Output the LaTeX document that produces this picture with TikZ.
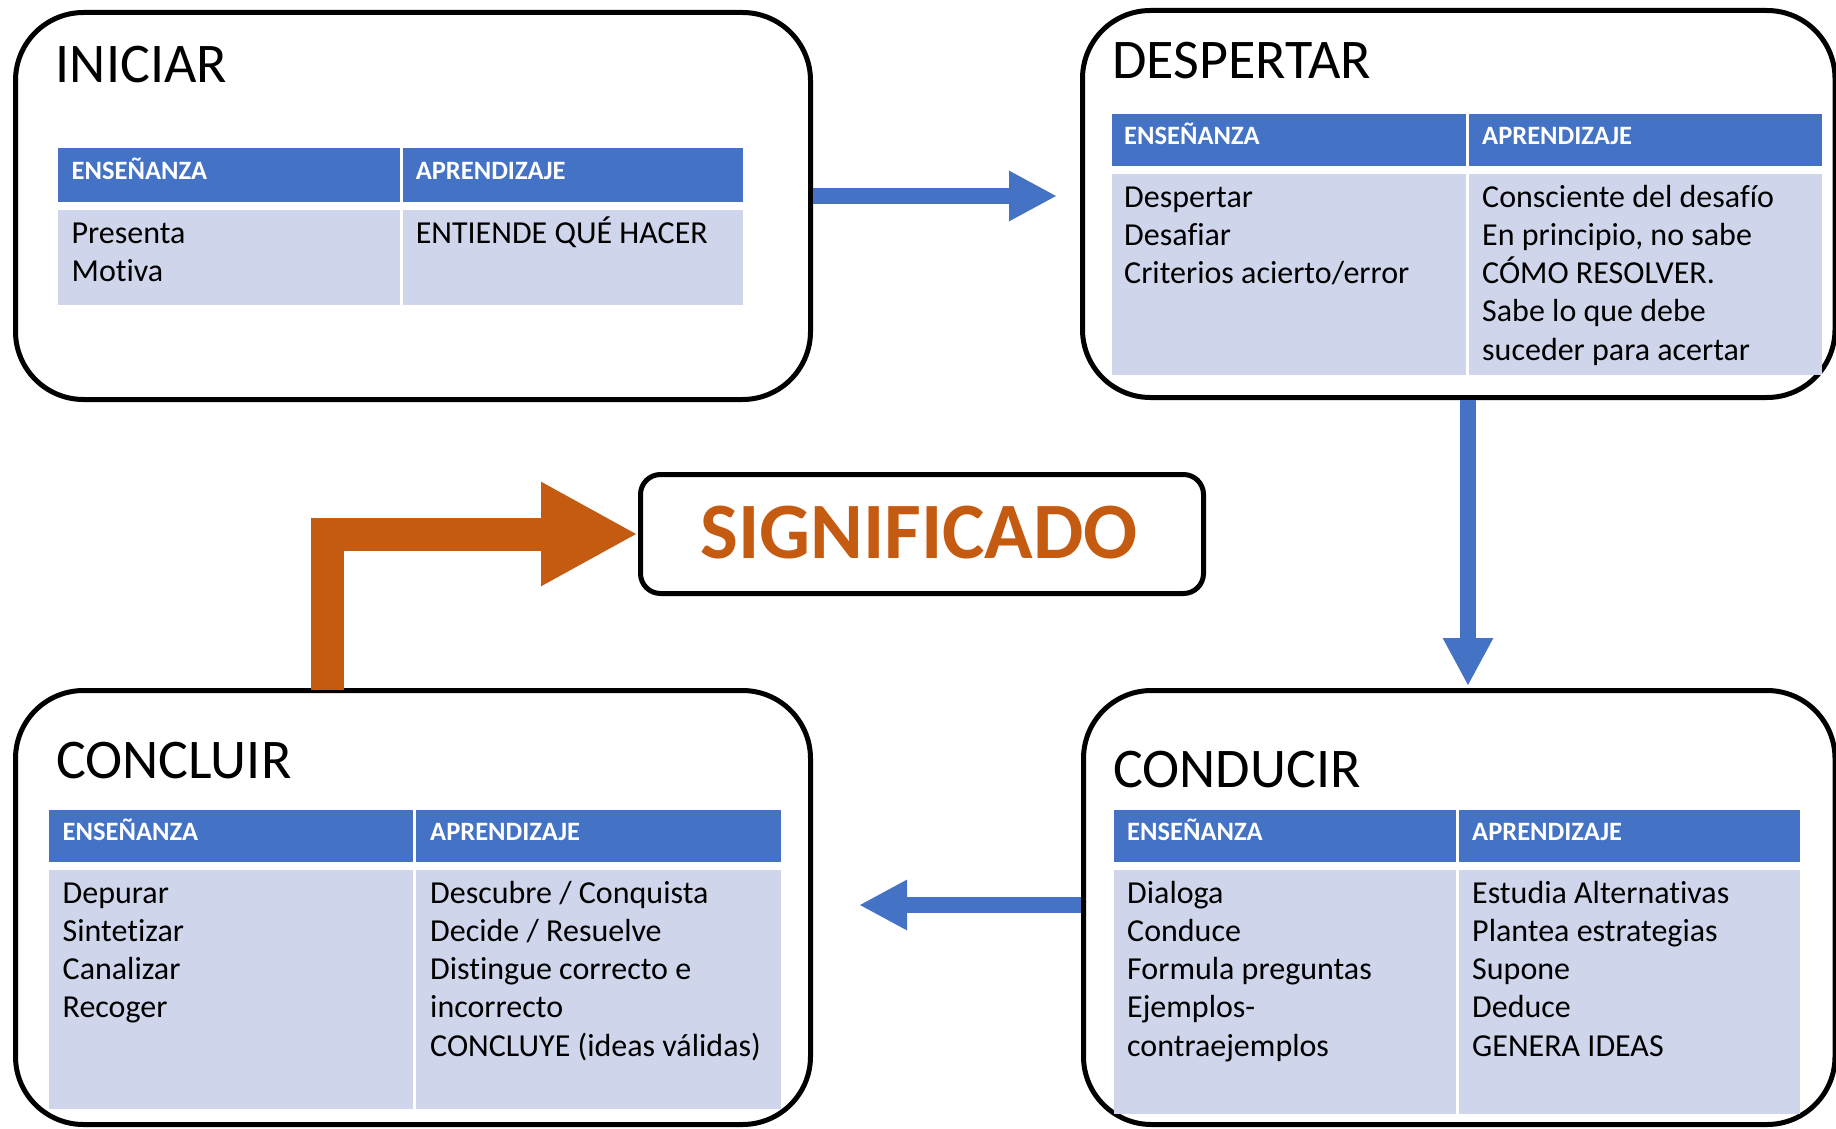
\documentclass[tikz,border=0pt]{standalone}
\usepackage{fontspec}
\setmainfont{Carlito}[Ligatures=NoCommon]
\usetikzlibrary{arrows.meta}
\definecolor{hdrblue}{HTML}{4472C4}
\definecolor{cellbg}{HTML}{CFD5EA}
\definecolor{orng}{HTML}{C55A11}
\tikzset{
  bigbox/.style={draw=black, line width=5pt, rounded corners=68pt, fill=white, inner sep=0pt},
  sigbox/.style={draw=black, line width=5pt, rounded corners=20pt, fill=white, inner sep=0pt},
  titletxt/.style={anchor=base west, inner sep=0pt, font=\fontsize{56}{60}\selectfont},
  hdrtxt/.style={anchor=base west, inner sep=0pt, text=white, font=\bfseries\fontsize{26.5}{30}\selectfont},
  bodytxt/.style={anchor=base west, inner sep=0pt, align=left, font=\fontsize{32}{38.3}\selectfont},
  hdrcell/.style={fill=hdrblue},
  bodycell/.style={fill=cellbg},
  bluearrow/.style={draw=hdrblue, line width=16pt, -{Triangle[length=48pt,width=47pt]}},
  orangearrow/.style={draw=orng, line width=33pt, -{Triangle[length=97pt,width=97pt]}},
}
\begin{document}
\begin{tikzpicture}[x=1pt,y=-1pt]
\useasboundingbox (0,0) rectangle (1836,1129);
% boxes
\node[bigbox, minimum width=795pt, minimum height=387pt] (iniciar) at (413,206) {};
\node[bigbox, minimum width=752.5pt, minimum height=387pt] (despertar) at (1458.75,204) {};
\node[bigbox, minimum width=751.5pt, minimum height=434pt] (conducir) at (1459.25,907.5) {};
\node[bigbox, minimum width=795pt, minimum height=434pt] (concluir) at (413,907.5) {};
\node[sigbox, minimum width=563pt, minimum height=119pt] (signif) at (922,534) {};

% INICIAR table
\fill[hdrcell] (58,148) rectangle (399.5,202);
\fill[hdrcell] (402.5,148) rectangle (743,202);
\fill[bodycell] (58,210) rectangle (399.5,305);
\fill[bodycell] (402.5,210) rectangle (743,305);
\node[titletxt] (tIni) at (55.6,83) {INICIAR};
\node[hdrtxt] (hIni1) at (71.5,179) {ENSEÑANZA};
\node[hdrtxt] (hIni2) at (415.6,179) {APRENDIZAJE};
\node[bodytxt] (bIni1) at (71.5,281.3) {Presenta\\Motiva};
\node[bodytxt] (bIni2) at (415.6,243) {ENTIENDE QUÉ HACER};

% DESPERTAR table
\fill[hdrcell] (1112,114) rectangle (1465.5,166);
\fill[hdrcell] (1468.5,114) rectangle (1822,166);
\fill[bodycell] (1112,174) rectangle (1465.5,375);
\fill[bodycell] (1468.5,174) rectangle (1822,375);
\node[titletxt] (tDes) at (1112,79) {DESPERTAR};
\node[hdrtxt] (hDes1) at (1124,145) {ENSEÑANZA};
\node[hdrtxt] (hDes2) at (1482,145) {APRENDIZAJE};
\node[bodytxt] (bDes1) at (1124,283.6) {Despertar\\Desafiar\\Criterios acierto/error};
\node[bodytxt] (bDes2) at (1482,360.2) {Consciente del desafío\\En principio, no sabe\\CÓMO RESOLVER.\\Sabe lo que debe\\suceder para acertar};

% CONDUCIR table
\fill[hdrcell] (1114,810) rectangle (1455.5,862);
\fill[hdrcell] (1458.5,810) rectangle (1800,862);
\fill[bodycell] (1114,870) rectangle (1455.5,1114);
\fill[bodycell] (1458.5,870) rectangle (1800,1114);
\node[titletxt] (tCond) at (1113,787) {CONDUCIR};
\node[hdrtxt] (hCond1) at (1127,840) {ENSEÑANZA};
\node[hdrtxt] (hCond2) at (1472,840) {APRENDIZAJE};
\node[bodytxt] (bCond1) at (1127,1056.2) {Dialoga\\Conduce\\Formula preguntas\\Ejemplos-\\contraejemplos};
\node[bodytxt] (bCond2) at (1472,1056.2) {Estudia Alternativas\\Plantea estrategias\\Supone\\Deduce\\GENERA IDEAS};

% CONCLUIR table
\fill[hdrcell] (49,810) rectangle (413,862);
\fill[hdrcell] (416,810) rectangle (781,862);
\fill[bodycell] (49,870) rectangle (413,1109);
\fill[bodycell] (416,870) rectangle (781,1109);
\node[titletxt] (tConc) at (56,778) {CONCLUIR};
\node[hdrtxt] (hConc1) at (62.5,840) {ENSEÑANZA};
\node[hdrtxt] (hConc2) at (430,840) {APRENDIZAJE};
\node[bodytxt] (bConc1) at (62.5,1017.9) {Depurar\\Sintetizar\\Canalizar\\Recoger};
\node[bodytxt] (bConc2) at (430,1056.2) {Descubre / Conquista\\Decide / Resuelve\\Distingue correcto e\\incorrecto\\CONCLUYE (ideas válidas)};

% SIGNIFICADO
\node[anchor=base, inner sep=0pt, text=orng, font=\bfseries\fontsize{80}{84}\selectfont] (sigtxt) at (919,558) {SIGNIFICADO};

% arrows
\coordinate (rtip) at (1057,196);
\coordinate (dtip) at (1468,686);
\coordinate (ltip) at (859,905);
\coordinate (ostart) at (327.5,690);
\draw[bluearrow] (iniciar.east |- rtip) -- (rtip);
\draw[bluearrow] (despertar.south -| dtip) -- (dtip);
\draw[bluearrow] (conducir.west |- ltip) -- (ltip);
\draw[orangearrow] (ostart) |- (signif.west);
\end{tikzpicture}
\end{document}
